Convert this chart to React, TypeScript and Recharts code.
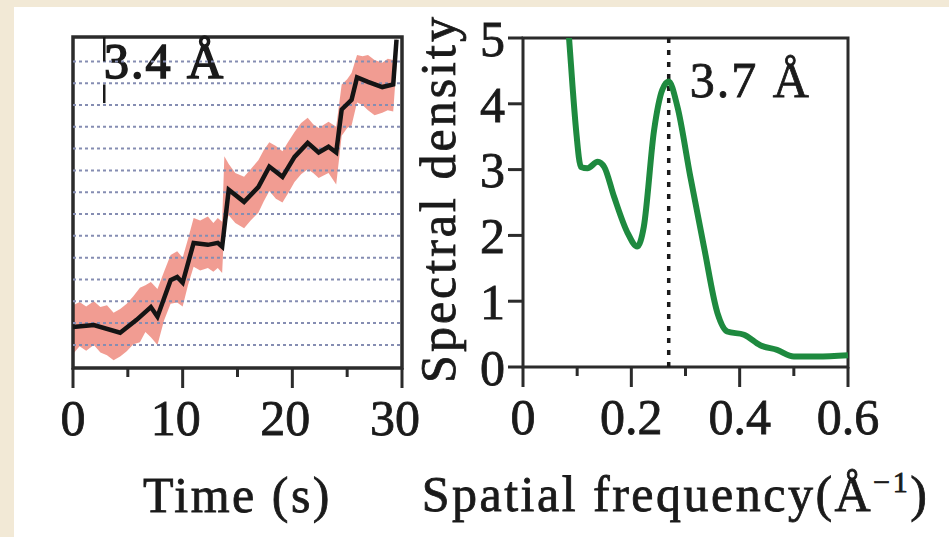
import {
  ComposedChart,
  Line,
  Area,
  XAxis,
  YAxis,
  ReferenceArea,
  ReferenceLine,
  Label,
} from "recharts";

const SERIF = '"Liberation Serif", "Times New Roman", serif';
const INK = "#1a1a1a";

// left panel: distance trace (Å) vs time (s)
const timeS = [0, 1.9, 4.3, 5.8, 7.1, 7.7, 8.9, 9.5, 10.0, 11.0, 12.3, 13.2, 13.6, 14.2, 15.6, 16.9, 17.9, 19.1, 20.2, 21.4, 22.4, 23.3, 24.0, 24.5, 25.4, 25.9, 26.9, 28.2, 29.2, 29.5];
const distA = [2.8, 3.1, 1.9, 3.9, 5.9, 4.4, 10.1, 10.6, 9.7, 15.9, 15.6, 15.9, 15.3, 24.2, 22.3, 24.6, 27.8, 26.2, 29.3, 31.5, 30.0, 30.9, 30.0, 36.7, 38.2, 41.7, 41.0, 40.2, 40.6, 47.6];

// raw-signal spread around the trace
const bandTime = [0, 0.6, 1.2, 1.9, 2.5, 3.1, 3.7, 4.3, 4.9, 5.5, 6.1, 6.6, 7.1, 7.7, 8.3, 8.9, 9.5, 10.0, 10.5, 11.0, 11.6, 12.3, 12.8, 13.2, 13.6, 13.8, 14.2, 14.8, 15.6, 16.2, 16.9, 17.4, 17.9, 18.5, 19.1, 19.6, 20.2, 20.8, 21.4, 21.9, 22.4, 23.3, 24.0, 24.5, 25.0, 25.4, 25.9, 26.4, 26.9, 27.5, 28.2, 28.7, 29.2, 29.5];
const bandLow = [-1.4, -0.2, -0.9, 0.0, -1.2, -1.6, -2.4, -1.8, -1.0, 0.1, 0.4, 2.0, 1.2, 0.0, 3.8, 6.4, 6.6, 6.0, 9.4, 12.2, 11.6, 12.0, 11.4, 12.0, 11.2, 18.6, 20.2, 19.0, 18.2, 19.4, 20.6, 22.4, 24.0, 22.8, 22.2, 23.6, 25.4, 26.6, 27.4, 26.8, 26.0, 26.8, 25.0, 32.6, 33.8, 34.2, 37.8, 37.4, 36.6, 35.8, 36.2, 36.6, 36.4, 43.6];
const bandHigh = [6.2, 6.7, 6.0, 6.8, 5.9, 6.2, 5.0, 5.6, 6.4, 7.6, 8.9, 9.3, 9.8, 8.7, 11.4, 14.0, 14.6, 13.6, 16.6, 19.8, 19.4, 20.0, 19.0, 19.8, 19.2, 29.4, 28.2, 26.8, 26.2, 27.4, 28.8, 30.4, 31.6, 31.0, 30.2, 31.6, 33.2, 34.6, 35.4, 34.4, 33.8, 34.8, 34.0, 40.6, 41.4, 42.4, 45.2, 45.0, 45.2, 44.4, 44.0, 44.6, 44.4, 48.0];

const gridLevels = [0, 3.4, 6.8, 10.2, 13.6, 17, 20.4, 23.8, 27.2, 30.6, 34, 37.4, 40.8, 44.2];
const timeTicks = [0, 5, 10, 15, 20, 25, 30];
const timeLabels = [0, 10, 20, 30];
const markTime = 2.85;
const markSpans = [
  [37.7, 40.6],
  [44.2, 48],
];

// right panel: spectral density vs spatial frequency
const freq = [0.078, 0.085, 0.0915, 0.098, 0.107, 0.119, 0.138, 0.15, 0.168, 0.193, 0.211, 0.223, 0.242, 0.257, 0.269, 0.285, 0.309, 0.334, 0.359, 0.377, 0.408, 0.438, 0.469, 0.5, 0.543, 0.6];
const density = [5.6, 5.0, 4.26, 3.6, 3.04, 3.02, 3.12, 3.04, 2.59, 2.04, 1.83, 2.13, 3.6, 4.21, 4.34, 3.96, 2.89, 1.83, 0.82, 0.54, 0.49, 0.33, 0.26, 0.16, 0.16, 0.18];
const freqTicks = [0, 0.1, 0.2, 0.3, 0.4, 0.5, 0.6];
const freqLabels = [0, 0.2, 0.4, 0.6];
const densityTicks = [0, 1, 2, 3, 4, 5];
const peakFreq = 0.269;

const trace = timeS.map((t, i) => ({ t, d: distA[i] }));
const band = bandTime.map((t, i) => ({ t, range: [bandLow[i], bandHigh[i]] }));
const spectrum = freq.map((f, i) => ({ f, s: density[i] }));

// thin stroke thickens the serif a little, closer to the scanned figure
const textStyle = { fontFamily: SERIF, fontSize: 50, fill: INK, stroke: INK, strokeWidth: 0.8 };

function bottomTick(labels: number[], shift: number) {
  return (props: any) => {
    const { x, y, payload } = props;
    const major = labels.includes(payload.value);
    return (
      <g>
        <line x1={x} x2={x} y1={y} y2={y + (major ? 20 : 9)} stroke="#2b2b2b" strokeWidth={3} />
        {major && (
          <text x={x + (payload.value === 0 ? 0 : shift)} y={y + 67} textAnchor="middle" {...textStyle}>
            {String(payload.value)}
          </text>
        )}
      </g>
    );
  };
}

function DistancePanel() {
  return (
    <ComposedChart width={420} height={537} margin={{ top: 37, right: 18, bottom: 109, left: 73 }}>
      <XAxis
        dataKey="t"
        type="number"
        domain={[0, 30]}
        ticks={timeTicks}
        interval={0}
        height={60}
        tickSize={0}
        tickMargin={0}
        axisLine={false}
        tickLine={false}
        tick={bottomTick(timeLabels, -7)}
      >
        <Label
          content={(p: any) => (
            <text x={p.viewBox.x + p.viewBox.width / 2} y={p.viewBox.y + 144} textAnchor="middle" letterSpacing={2.5} {...textStyle}>
              Time (s)
            </text>
          )}
        />
      </XAxis>
      <YAxis type="number" domain={[-3.6, 48]} width={0} tick={false} axisLine={false} tickLine={false}>
        <Label
          content={(p: any) => {
            const cx = p.viewBox.x - 26;
            const cy = p.viewBox.y + p.viewBox.height / 2 - 9;
            return (
              <text transform={`translate(${cx},${cy}) rotate(-90)`} textAnchor="middle" letterSpacing={2.5} {...textStyle}>
                Distance
              </text>
            );
          }}
        />
      </YAxis>
      {gridLevels.map((g) => (
        <ReferenceLine key={g} y={g} stroke="#858db2" strokeDasharray="3 3" strokeWidth={2} />
      ))}
      <Area
        data={band}
        dataKey="range"
        type="linear"
        stroke="none"
        fill="#ef8b7f"
        fillOpacity={0.85}
        isAnimationActive={false}
      />
      <Line data={trace} dataKey="d" type="linear" stroke="#141414" strokeWidth={4.5} dot={false} isAnimationActive={false} />
      {markSpans.map((s, i) => (
        <ReferenceLine
          key={i}
          segment={[
            { x: markTime, y: s[0] },
            { x: markTime, y: s[1] },
          ]}
          stroke={INK}
          strokeWidth={2.5}
        />
      ))}
      <ReferenceArea x1={0} x2={30} y1={-3.6} y2={48} fill="none" stroke="#2b2b2b" strokeWidth={3.5}>
        <Label
          content={(p: any) => (
            <text x={p.viewBox.x + 31} y={p.viewBox.y + 41} letterSpacing={2} {...textStyle} strokeWidth={1.6}>
              3.4 Å
            </text>
          )}
        />
      </ReferenceArea>
    </ComposedChart>
  );
}

function SpectrumPanel() {
  return (
    <ComposedChart width={549} height={537} margin={{ top: 38, right: 101, bottom: 110, left: 43 }}>
      <XAxis
        dataKey="f"
        type="number"
        domain={[0, 0.6]}
        ticks={freqTicks}
        interval={0}
        height={60}
        tickSize={0}
        tickMargin={0}
        axisLine={false}
        tickLine={false}
        tick={bottomTick(freqLabels, 0)}
      >
        <Label
          content={(p: any) => (
            <text x={p.viewBox.x + p.viewBox.width / 2 - 10} y={p.viewBox.y + 144} textAnchor="middle" letterSpacing={2.5} {...textStyle}>
              Spatial frequency(Å
              <tspan dy={-19} fontSize={30}>−1</tspan>
              <tspan dy={19}>)</tspan>
            </text>
          )}
        />
      </XAxis>
      <YAxis
        type="number"
        domain={[0, 5]}
        allowDataOverflow
        ticks={densityTicks}
        interval={0}
        width={80}
        tickSize={15}
        tickMargin={3}
        axisLine={false}
        tickLine={{ stroke: "#2b2b2b", strokeWidth: 3 }}
        tick={textStyle}
      >
        <Label
          content={(p: any) => {
            const cx = p.viewBox.x + 12;
            const cy = p.viewBox.y + p.viewBox.height / 2 - 4;
            return (
              <text transform={`translate(${cx},${cy}) rotate(-90)`} textAnchor="middle" letterSpacing={3} {...textStyle}>
                Spectral density
              </text>
            );
          }}
        />
      </YAxis>
      <ReferenceLine x={peakFreq} stroke={INK} strokeWidth={3.5} strokeDasharray="5 7">
        <Label
          content={(p: any) => (
            <text x={p.viewBox.x + 21} y={p.viewBox.y + 59} letterSpacing={2} {...textStyle}>
              3.7 Å
            </text>
          )}
        />
      </ReferenceLine>
      <Line data={spectrum} dataKey="s" type="monotone" stroke="#1e8a3f" strokeWidth={6} dot={false} isAnimationActive={false} />
      <ReferenceArea x1={0} x2={0.6} y1={0} y2={5} fill="none" stroke="#2b2b2b" strokeWidth={3} />
    </ComposedChart>
  );
}

export default function App() {
  return (
    <div style={{ position: "fixed", left: 0, top: 0, width: 949, height: 537, background: "#f2e9d6" }}>
      <div style={{ position: "absolute", left: 14, top: 7, width: 935, height: 530, background: "#ffffff" }} />
      <div style={{ position: "absolute", left: 0, top: 0 }}>
        <DistancePanel />
      </div>
      <div style={{ position: "absolute", left: 400, top: 0 }}>
        <SpectrumPanel />
      </div>
    </div>
  );
}
